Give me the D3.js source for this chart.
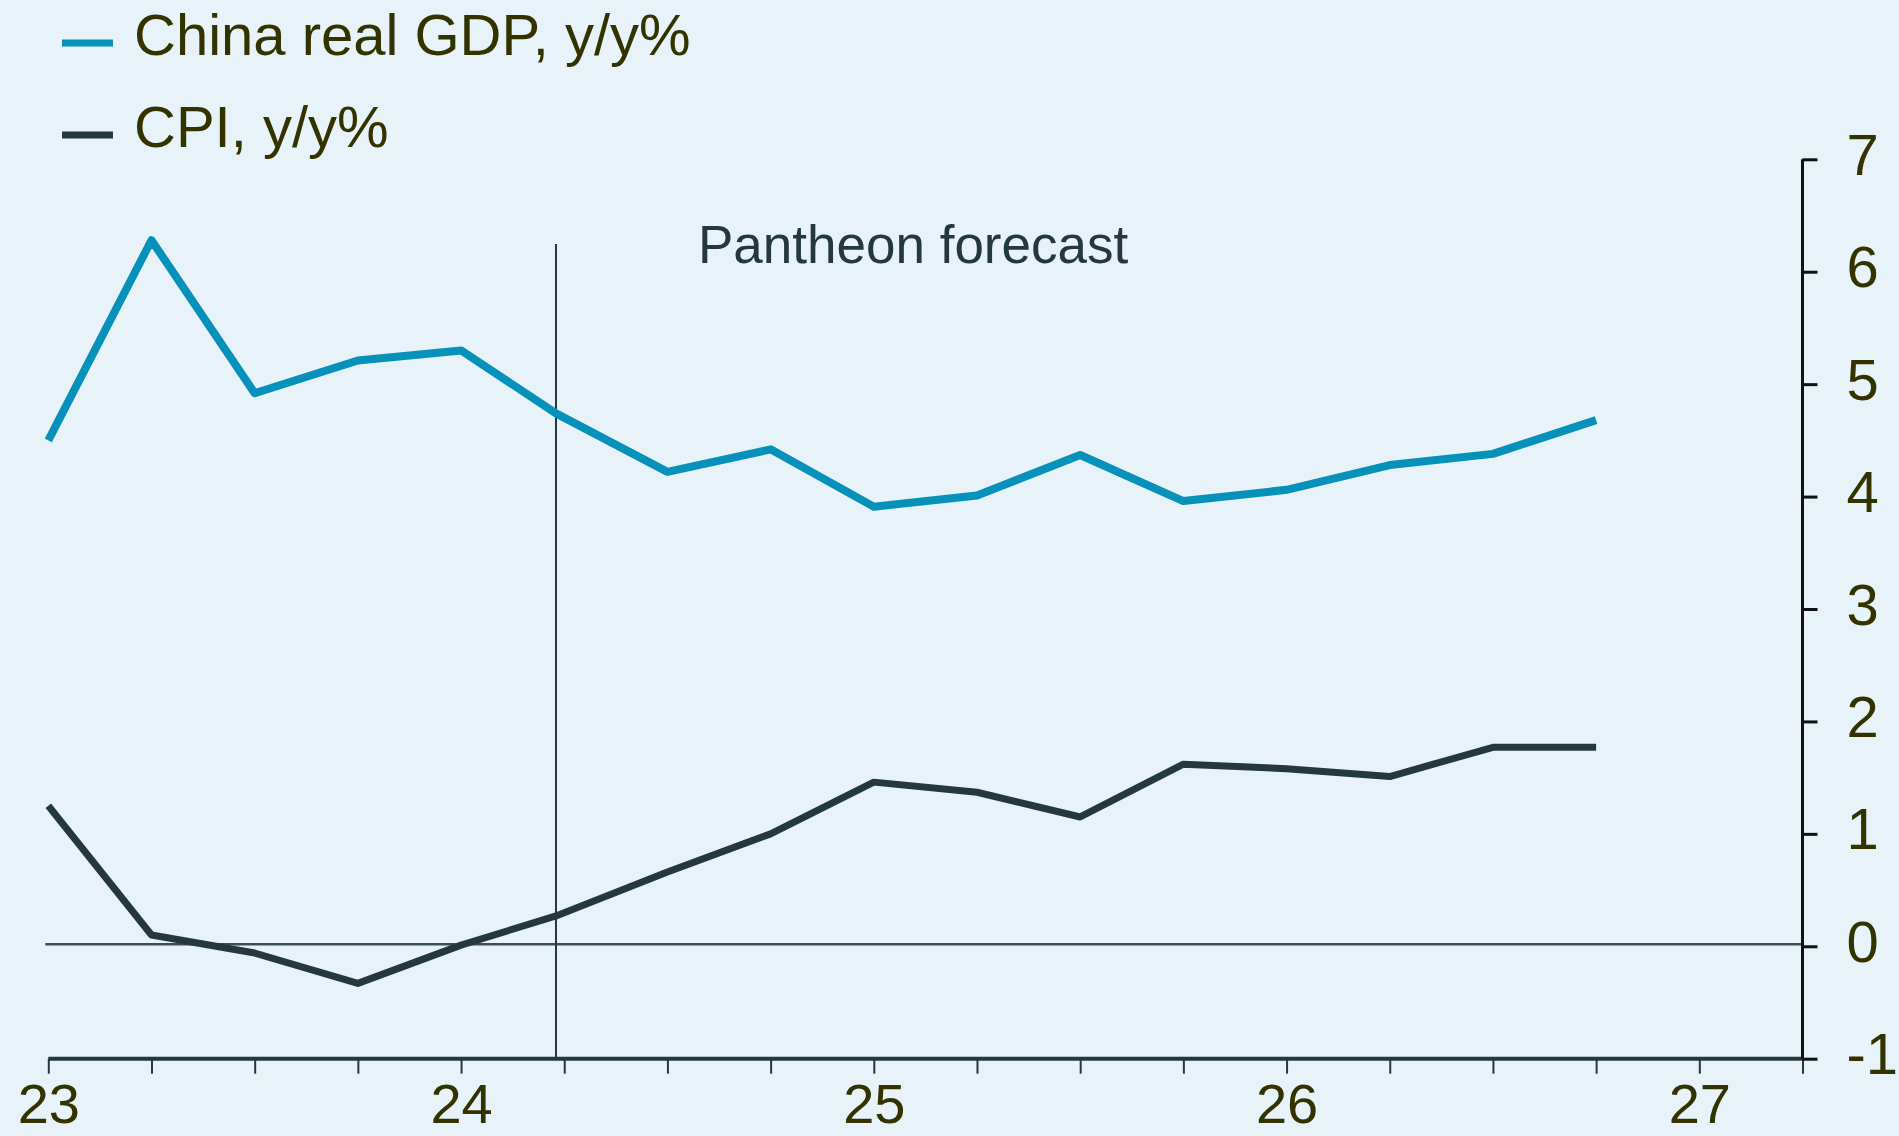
<!DOCTYPE html>
<html>
<head>
<meta charset="utf-8">
<script src="https://cdn.jsdelivr.net/npm/d3@7"></script>
<style>
  html, body { margin: 0; padding: 0; background: #e7f3f8; }
  svg { display: block; }
  text { font-family: "Liberation Sans", Arial, sans-serif; }
</style>
</head>
<body>
<svg id="chart" width="1899" height="1136"></svg>
<script>
// Quarterly observations (fractional year, 2-digit years); the sixth point sits on the forecast divider
const quarters = [23, 23.25, 23.5, 23.75, 24, 24.23, 24.5, 24.75, 25, 25.25, 25.5, 25.75, 26, 26.25, 26.5, 26.75];
const gdp = [4.5, 6.28, 4.92, 5.21, 5.3, 4.74, 4.22, 4.42, 3.91, 4.01, 4.37, 3.96, 4.06, 4.28, 4.38, 4.68];
const cpi = [1.25, 0.10, -0.06, -0.33, 0.01, 0.27, 0.66, 1.0, 1.46, 1.37, 1.15, 1.62, 1.58, 1.51, 1.77, 1.77];
const forecastStart = 24.23;

const xTicks = [23, 23.25, 23.5, 23.75, 24, 24.25, 24.5, 24.75, 25, 25.25, 25.5, 25.75, 26, 26.25, 26.5, 26.75, 27, 27.25];
const xLabels = [23, 24, 25, 26, 27];
const yTicks = [-1, 0, 1, 2, 3, 4, 5, 6, 7];

const seriesNames = ["China real GDP, y/y%", "CPI, y/y%"];
const seriesColors = ["#0591b9", "#23393d"];

const svg = d3.select("#chart");
const textColor = "#333300";

const x = d3.scaleLinear().domain([23, 27.25]).range([48.3, 1802.5]);
const y = d3.scaleLinear().domain([-1, 7]).range([1058.7, 159.3]);

// zero reference line
svg.append("line")
  .attr("x1", x(23) - 3).attr("x2", x(27.25))
  .attr("y1", y(0) - 2).attr("y2", y(0) - 2)
  .attr("stroke", "#3a4f57").attr("stroke-width", 2.5);

// forecast divider
svg.append("line")
  .attr("x1", x(forecastStart)).attr("x2", x(forecastStart))
  .attr("y1", 244).attr("y2", y(-1))
  .attr("stroke", "#23393d").attr("stroke-width", 2);

svg.append("text")
  .attr("x", 698).attr("y", 263)
  .attr("font-size", 53)
  .attr("fill", "#23393d")
  .text("Pantheon forecast");

// bottom axis
const xAxis = d3.axisBottom(x)
  .tickValues(xTicks)
  .tickSize(15)
  .tickPadding(10)
  .tickFormat(d => xLabels.includes(d) ? String(d) : "");
const gx = svg.append("g")
  .attr("transform", `translate(0,${y(-1)})`)
  .call(xAxis);
gx.select(".domain").attr("stroke", "#23393d").attr("stroke-width", 4).attr("d", `M${x(23)},0H${x(27.25)}`);
gx.selectAll(".tick line").attr("stroke", "#23393d").attr("stroke-width", 2);
gx.selectAll(".tick text")
  .attr("font-size", 56)
  .attr("font-family", "'Liberation Sans', Arial, sans-serif")
  .attr("fill", textColor);

// right axis
const yAxis = d3.axisRight(y)
  .tickValues(yTicks)
  .tickSize(15)
  .tickPadding(29)
  .tickFormat(d => String(d));
const gy = svg.append("g")
  .attr("transform", `translate(${x(27.25)},0)`)
  .call(yAxis);
gy.select(".domain").attr("stroke", "#111").attr("stroke-width", 3)
  .attr("d", `M0,${y(7)}V${y(-1)}`);
gy.selectAll(".tick line").attr("stroke", "#111").attr("stroke-width", 3);
gy.selectAll(".tick text")
  .attr("font-size", 58)
  .attr("font-family", "'Liberation Sans', Arial, sans-serif")
  .attr("fill", textColor)
  .attr("dy", "0.26em");

// series lines
const line = d3.line()
  .x((d, i) => x(quarters[i]))
  .y(d => y(d));

svg.append("path")
  .datum(cpi)
  .attr("d", line)
  .attr("fill", "none")
  .attr("stroke", seriesColors[1])
  .attr("stroke-width", 7)
  .attr("stroke-linejoin", "round");

svg.append("path")
  .datum(gdp)
  .attr("d", line)
  .attr("fill", "none")
  .attr("stroke", seriesColors[0])
  .attr("stroke-width", 8)
  .attr("stroke-linejoin", "round");

// legend
const legend = svg.append("g");
seriesNames.forEach((name, i) => {
  const cy = 43 + i * 92;
  legend.append("rect")
    .attr("x", 62).attr("y", cy - 3.5)
    .attr("width", 51).attr("height", 7)
    .attr("fill", seriesColors[i]);
  legend.append("text")
    .attr("x", 134).attr("y", 55 + i * 92)
    .attr("font-size", 58)
    .attr("fill", textColor)
    .text(name);
});
</script>
</body>
</html>
